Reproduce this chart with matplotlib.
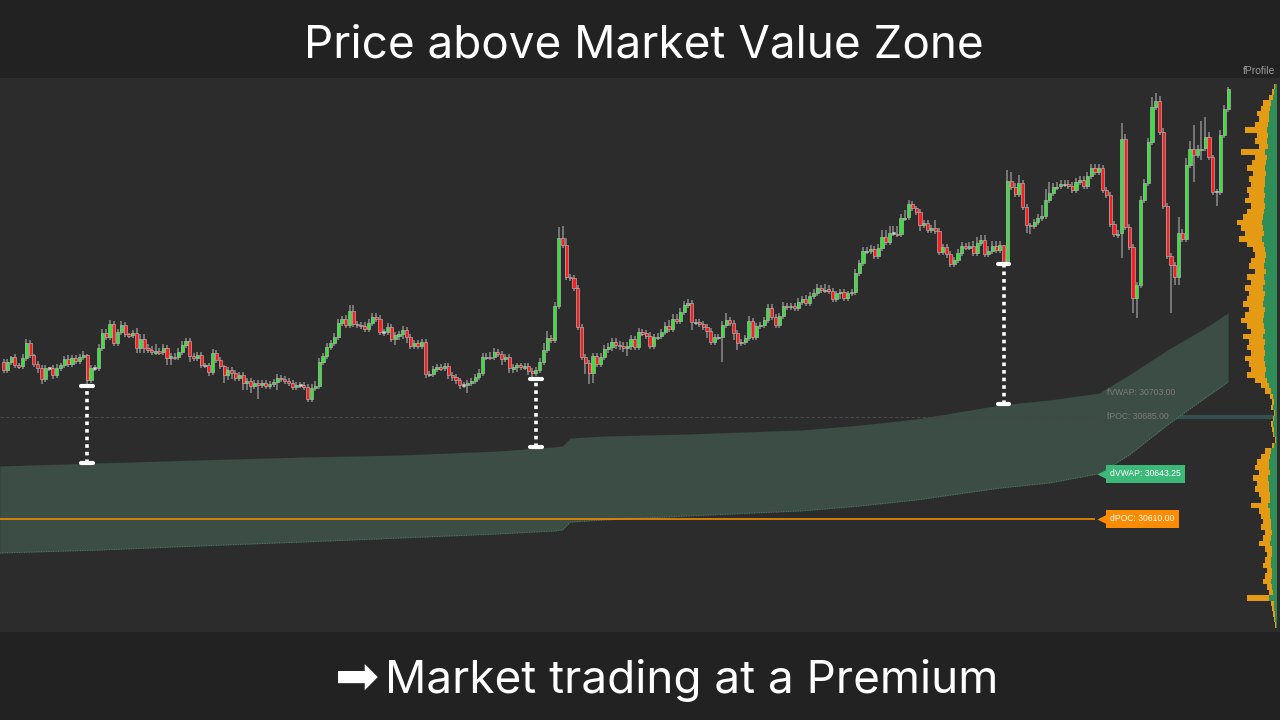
import numpy as np
import matplotlib
matplotlib.use("Agg")
import matplotlib.pyplot as plt

# price action (close of each bar); open = previous close
first_open = 30725.5
closes = [
    30719.5, 30725.5, 30729, 30723, 30722.5, 30728.5, 30739.5, 30730.5, 30724, 30721,
    30713, 30721, 30721, 30716, 30721, 30723, 30727.5, 30724, 30728.5, 30726,
    30729, 30730.5, 30712, 30721, 30721, 30735.75, 30746.75, 30743.75, 30753.5, 30739.5,
    30747.5, 30752.5, 30746, 30745.25, 30746.75, 30735.75, 30742.25, 30735.75, 30734.25, 30732.75,
    30733.5, 30732.75, 30735.75, 30728.5, 30729.75, 30729, 30732.75, 30738, 30741, 30729.75,
    30728.5, 30730.5, 30723, 30723, 30718, 30732, 30727, 30722.5, 30716, 30719.5,
    30717.25, 30713.75, 30716, 30710, 30711.5, 30707.75, 30710, 30708.5, 30710, 30707.75,
    30709.25, 30710.75, 30713.75, 30713, 30711.5, 30710, 30707, 30708.5, 30708.5, 30707,
    30698.25, 30706.25, 30707.75, 30725.5, 30729.75, 30736.5, 30739.5, 30743.75, 30754, 30757,
    30752.5, 30763, 30753.5, 30752.5, 30752, 30749.75, 30754, 30758.5, 30757, 30747.5,
    30747.5, 30751.25, 30742.25, 30745.25, 30746, 30749, 30743.75, 30737.25, 30739.5, 30737.25,
    30740, 30716.5, 30716.5, 30720.25, 30721.75, 30721, 30722.5, 30716, 30714.5, 30712,
    30708.5, 30708.5, 30710, 30711.5, 30714.5, 30717.25, 30729, 30729.75, 30729, 30732.75,
    30731.25, 30727.5, 30729, 30721, 30721.75, 30723, 30721.75, 30722.5, 30718.75, 30717.25,
    30719.5, 30725.5, 30734.25, 30743, 30741.5, 30766.5, 30816.5, 30811.5, 30788, 30787.25,
    30779.75, 30751.25, 30729, 30724.75, 30717.25, 30729.75, 30724, 30729, 30735, 30736.5,
    30740, 30738, 30737.25, 30735.75, 30737.25, 30742.25, 30736.5, 30747.5, 30746.75, 30744.5,
    30737.25, 30743.75, 30744.5, 30747.5, 30752, 30749.75, 30757, 30755.5, 30762.25, 30767.25,
    30768.75, 30754.75, 30754.75, 30753.5, 30751.25, 30748.25, 30740, 30743.75, 30743.75, 30752.5,
    30756.25, 30754, 30746.75, 30739.5, 30740, 30743, 30755.5, 30743.75, 30752, 30752.5,
    30756.25, 30765, 30758.5, 30752.5, 30759.25, 30766.5, 30766, 30766.5, 30765, 30769.5,
    30771.75, 30768.75, 30774, 30776, 30779.75, 30778.25, 30779, 30777.5, 30771.75, 30776,
    30777, 30772.5, 30776, 30777, 30790.75, 30798.25, 30807, 30807, 30808.5, 30803.25,
    30809.25, 30817.25, 30813.5, 30820.25, 30820.25, 30819.5, 30831.25, 30832, 30841.5, 30838.5,
    30835.75, 30826, 30827.5, 30822.5, 30824, 30821.75, 30806.25, 30810, 30804.75, 30797.5,
    30800.5, 30805.5, 30810.75, 30810, 30810.75, 30805.5, 30813, 30815, 30804.75, 30807,
    30810.75, 30807.75, 30811.5, 30799, 30858.5, 30854, 30849, 30857, 30839.5, 30826,
    30825.5, 30828.25, 30831.25, 30832.75, 30844.5, 30849.5, 30854, 30854.75, 30856.25, 30856.25,
    30854.75, 30851.75, 30857.75, 30859.25, 30854.75, 30862, 30868, 30865, 30868, 30851.75,
    30848.25, 30827, 30819.5, 30820.25, 30889.25, 30824.75, 30810, 30772.5, 30782, 30844.5,
    30857, 30887, 30913, 30917.25, 30894.5, 30840, 30803.25, 30796.75, 30788, 30820.25,
    30815.75, 30870.25, 30882, 30877.5, 30882, 30882.75, 30890.75, 30876, 30850.5, 30850.5,
    30892.25, 30911.5, 30926,
]

# wick length above / below the body, in points
wick_up = [
    2, 2, 1, 2, 2, 3, 3, 2, 1, 2, 2, 2, 1, 2, 3, 2, 2, 3, 2, 2,
    2, 3, 1, 2, 2, 3, 3, 3, 3, 2, 2, 3, 2, 1, 2, 4, 4, 4, 3, 3,
    5, 2, 3, 2, 2, 2, 3, 3, 2, 2, 2, 2, 2, 2, 2, 3, 2, 2, 1, 2,
    2, 2, 2, 2, 2, 2, 2, 2, 2, 2, 2, 2, 3, 2, 2, 2, 2, 2, 2, 2,
    2, 3, 4, 3, 2, 3, 2, 3, 3, 2, 3, 4, 4, 2, 2, 3, 3, 3, 3, 3,
    2, 3, 2, 2, 2, 3, 2, 2, 2, 2, 2, 2, 2, 2, 2, 2, 2, 2, 2, 2,
    2, 2, 2, 2, 2, 3, 3, 2, 3, 3, 2, 2, 2, 2, 2, 2, 2, 2, 2, 2,
    2, 3, 5, 5, 2, 3, 8, 9, 5, 2, 2, 2, 2, 2, 2, 2, 2, 3, 3, 3,
    3, 3, 3, 3, 3, 3, 2, 3, 2, 2, 3, 2, 2, 2, 3, 4, 4, 4, 3, 3,
    3, 2, 2, 2, 2, 2, 2, 2, 2, 3, 5, 2, 2, 2, 2, 2, 4, 2, 2, 2,
    2, 3, 3, 2, 2, 3, 2, 2, 2, 3, 2, 3, 3, 3, 3, 2, 4, 3, 2, 2,
    2, 2, 2, 2, 3, 2, 3, 3, 3, 2, 3, 5, 5, 5, 5, 5, 3, 5, 3, 2,
    2, 2, 2, 2, 2, 6, 2, 2, 2, 2, 2, 3, 3, 2, 3, 4, 4, 4, 4, 4,
    4, 4, 3, 0, 8, 7, 3, 6, 2, 2, 2, 2, 3, 8, 8, 8, 3, 3, 3, 3,
    3, 3, 3, 3, 3, 3, 3, 3, 3, 2, 2, 2, 2, 2, 12, 4, 2, 2, 2, 3,
    3, 3, 7, 6, 4, 3, 2, 2, 2, 12, 3, 5, 6, 18, 3, 20, 15, 4, 2, 2,
    4, 3, 2,
]
wick_dn = [
    2, 2, 2, 2, 2, 2, 2, 2, 2, 4, 4, 2, 2, 3, 2, 2, 2, 2, 2, 2,
    2, 2, 3, 2, 2, 2, 2, 2, 2, 2, 2, 2, 2, 2, 2, 4, 4, 4, 2, 2,
    2, 2, 2, 5, 5, 2, 2, 2, 2, 4, 2, 2, 2, 2, 3, 2, 2, 2, 6, 4,
    4, 2, 2, 5, 5, 5, 2, 10, 2, 2, 2, 2, 6, 2, 2, 2, 2, 2, 2, 2,
    2, 2, 2, 2, 2, 2, 2, 2, 2, 2, 2, 2, 2, 2, 2, 2, 2, 2, 2, 2,
    3, 2, 2, 4, 4, 4, 4, 2, 2, 2, 2, 3, 2, 2, 2, 2, 2, 3, 3, 3,
    3, 2, 6, 2, 2, 2, 2, 2, 2, 2, 2, 4, 2, 4, 4, 4, 2, 2, 3, 3,
    2, 2, 2, 2, 2, 2, 2, 2, 2, 2, 2, 2, 2, 8, 8, 7, 2, 2, 2, 3,
    3, 3, 3, 3, 6, 3, 2, 2, 2, 2, 2, 2, 2, 2, 2, 2, 2, 2, 2, 2,
    2, 6, 2, 2, 2, 5, 2, 2, 2, 18, 2, 2, 5, 5, 2, 2, 2, 2, 2, 2,
    2, 2, 2, 2, 2, 2, 2, 2, 2, 2, 2, 2, 2, 2, 2, 2, 2, 2, 2, 2,
    4, 2, 2, 2, 2, 2, 2, 2, 2, 2, 2, 2, 2, 2, 2, 2, 2, 2, 2, 2,
    2, 4, 2, 2, 2, 2, 2, 2, 3, 2, 2, 2, 2, 2, 2, 2, 2, 2, 2, 2,
    2, 2, 2, 2, 2, 2, 2, 2, 2, 6, 6, 2, 2, 2, 2, 2, 2, 2, 2, 2,
    2, 2, 2, 2, 2, 2, 2, 2, 2, 2, 2, 2, 2, 3, 18, 2, 2, 11, 15, 2,
    2, 2, 2, 2, 2, 2, 2, 35, 6, 6, 2, 2, 2, 20, 2, 8, 2, 2, 2, 10,
    2, 2, 2,
]

# market value zone (band) sampled at bar indices
band_idx = [-1, 26, 52, 78, 104, 130, 145, 147, 149, 158, 180, 210, 225, 240, 262, 275, 288, 296, 306, 316, 322]
band_hi = [30649, 30651.25, 30653.5, 30655.5, 30657, 30660, 30663, 30663.75, 30669.5, 30671, 30672.5,
           30675.5, 30679, 30683.5, 30693.75, 30697.5, 30702.5, 30716, 30734.25, 30750.5, 30761.5]
band_lo = [30585, 30587.25, 30590.25, 30593, 30596, 30599, 30601.25, 30602, 30607.75, 30609.25, 30612.25,
           30616, 30619.5, 30624, 30632.75, 30636.5, 30643.25, 30657, 30679, 30699, 30710.75]

# distance from price to the zone
gap_idx = [22, 140, 263]
gap_hi = [30707.75, 30713, 30797.5]
gap_lo = [30651.25, 30663, 30694.5]

levels = {"fVWAP": 30703.00, "fPOC": 30685.00, "dVWAP": 30643.25, "dPOC": 30610.00}

# fixed-range volume profile, 4 pt rows from the top
prof_top, prof_step = 30928, 4
prof_total = [3, 5, 8, 14, 16, 20, 18, 22, 32, 20,
              22, 18, 36, 22, 25, 30, 24, 28, 26, 30,
              28, 32, 26, 30, 34, 48, 36, 32, 38, 30,
              24, 22, 26, 28, 22, 30, 26, 32, 28, 30,
              34, 28, 32, 36, 30, 26, 34, 28, 30, 26,
              32, 28, 26, 30, 22, 16, 12, 7, 5, 6,
              3, 4, 6, 5, 4, 2, 5, 12, 16, 20,
              22, 18, 24, 20, 22, 18, 16, 26, 18, 16,
              14, 16, 12, 14, 18, 12, 10, 12, 14, 10,
              12, 14, 10, 8, 30, 6, 5, 4, 3, 2]
prof_green = [2, 3, 4, 6, 7, 8, 8, 9, 10, 9,
              10, 9, 12, 10, 11, 12, 11, 12, 12, 13,
              12, 13, 12, 13, 14, 15, 14, 13, 15, 13,
              12, 11, 12, 13, 11, 13, 12, 14, 12, 13,
              14, 12, 13, 14, 13, 12, 14, 12, 13, 12,
              13, 12, 11, 12, 10, 8, 6, 4, 3, 4,
              2, 3, 4, 3, 3, 1, 3, 6, 7, 8,
              8, 7, 9, 8, 8, 7, 7, 9, 7, 7,
              6, 6, 5, 6, 7, 5, 5, 6, 6, 5,
              5, 6, 5, 4, 8, 3, 3, 2, 2, 1]

BG = "#2c2c2c"
BAR_BG = "#222222"
UP = "#3ae03a"
DN = "#ff1c1c"
ZONE = "#3b4d45"

W, H = 1280, 720
fig = plt.figure(figsize=(12.8, 7.2), dpi=100, facecolor=BAR_BG)
ax = fig.add_axes([0, 88 / H, 1, 554 / H])
ax.set_facecolor(BG)
ylo, yhi = 30526.9, 30934.25
ax.set_ylim(ylo, yhi)
step = 3.803
ax.set_xlim(-3.5 / step, (W - 3.5) / step)
ax.set_xticks([])
ax.set_yticks([])
for s in ax.spines.values():
    s.set_visible(False)


def px(x):
    # pixel column -> bar index
    return (x - 3.5) / step


c = np.array(closes, dtype=float)
o = np.concatenate([[first_open], c[:-1]])
idx = np.arange(len(c))
top = np.maximum(o, c)
bot = np.minimum(o, c)
hi = top + np.array(wick_up)
lo = bot - np.array(wick_dn)

# zone
ax.fill_between(band_idx, band_lo, band_hi, color=ZONE, lw=0, zorder=1)
ax.plot(band_idx, band_lo, color="#4f8068", lw=0.7, ls=(0, (1, 1.5)), zorder=1.5)

# level lines
ax.hlines(levels["fPOC"], px(0), px(1100), color="#474747", lw=0.8, ls=(0, (3, 2)), zorder=1.2)
ax.hlines(levels["fPOC"], px(1175), px(1277), color="#35514f", lw=3, zorder=1.2)
ax.hlines(levels["dPOC"], px(0), px(1095), color="#f08c00", lw=1.2, zorder=2)

# candles
ax.vlines(idx, lo, hi, color="#8c8c8c", lw=1.1, zorder=3)
body_h = np.maximum(top - bot, 0.8)
body_b = np.where(top - bot < 0.8, bot - 0.4, bot)
cols = np.where(c > o, UP, np.where(c < o, DN, "#d8d8d8"))
ax.bar(idx, body_h, bottom=body_b, width=0.82, color=cols, edgecolor="#b8b8b8", linewidth=0.45, zorder=4)

# distance markers
for i, a, b in zip(gap_idx, gap_hi, gap_lo):
    ax.vlines(i, b, a, color="white", lw=2.6, ls=(0, (1, 1.1)), zorder=5)
    ax.hlines([a, b], i - 1.5, i + 1.5, color="white", lw=3, capstyle="round", zorder=5)

# labels
lab_font = dict(family=["Liberation Sans", "DejaVu Sans"], fontsize=6.2)
ax.text(px(1107), levels["fVWAP"], "fVWAP: %.2f" % levels["fVWAP"], color="#7c7c7c", va="center", **lab_font)
ax.text(px(1107), levels["fPOC"], "fPOC: %.2f" % levels["fPOC"], color="#7c7c7c", va="center", **lab_font)
for key, col in (("dVWAP", "#3cb878"), ("dPOC", "#ff8c00")):
    v = levels[key]
    ax.plot(px(1103), v, marker="<", ms=9, color=col, mec="none", zorder=6)
    ax.text(px(1110), v, "%s: %.2f" % (key, v), color="white", va="center", zorder=7,
            bbox=dict(boxstyle="square,pad=0.5", fc=col, ec="none"), **lab_font)

# profile
pax = fig.add_axes([1237 / W, 88 / H, 40 / W, 554 / H])
pax.set_ylim(ylo, yhi)
pax.set_xlim(40, 0)
pax.axis("off")
prof_lv = prof_top - prof_step * np.arange(len(prof_total))
pax.barh(prof_lv, prof_total, height=prof_step, color="#e49a12", lw=0)
pax.barh(prof_lv, prof_green, height=prof_step, color="#2f8d57", lw=0)
fig.text(1275 / W, 1 - 71 / H, "fProfile", color="#9a9a9a", ha="right", va="center", fontsize=7.5,
         family=["Liberation Sans", "DejaVu Sans"])

# headline / footer
fig.text(0.5 + 4 / W, 1 - 45 / H, "Price above Market Value Zone", color="white", ha="center", va="center",
         fontsize=33, family=["Inter", "DejaVu Sans"])
fig.text(357 / W, 1 - 679 / H, "\u27a1", color="white", ha="center", va="center", fontsize=38,
         family=["DejaVu Sans"])
fig.text(385 / W, 1 - 680 / H, "Market trading at a Premium", color="white", ha="left", va="center",
         fontsize=33, family=["Inter", "DejaVu Sans"])

fig.savefig("out.png", dpi=100, facecolor=BAR_BG)
